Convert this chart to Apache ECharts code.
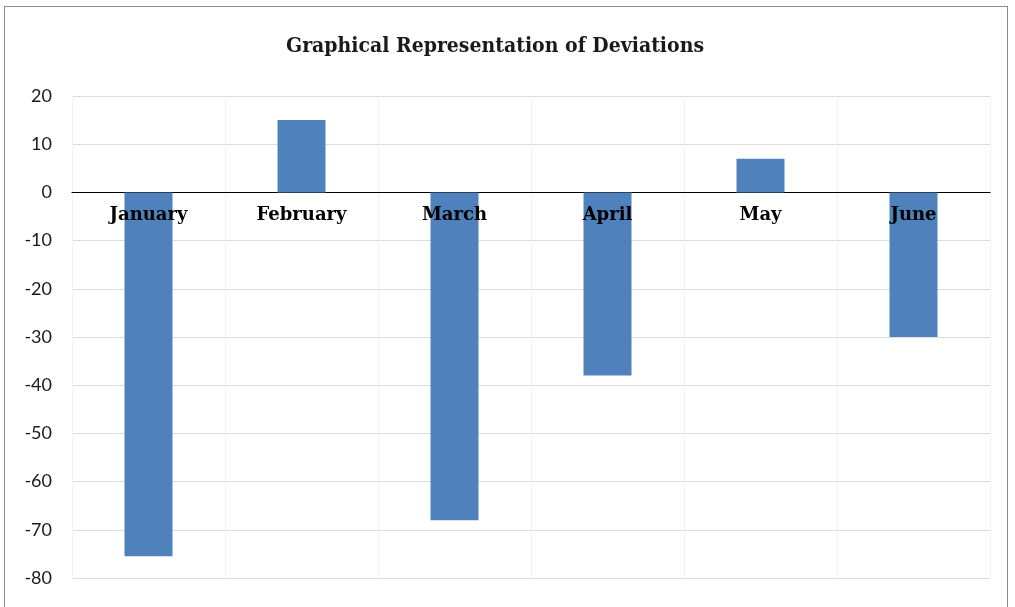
<!DOCTYPE html>
<html>
<head>
<meta charset="utf-8">
<script src="https://cdn.jsdelivr.net/npm/echarts@6/dist/echarts.min.js"></script>
<style>
  html, body { margin: 0; padding: 0; background: #fff; }
  #frame { position: absolute; left: 4px; top: 6px; width: 1004px; height: 610px; border: 1px solid #8c8c8c; box-sizing: border-box; }
  #chart { position: absolute; left: 0; top: 0; width: 1015px; height: 607px; }
</style>
</head>
<body>
<div id="frame"></div>
<div id="chart"></div>
<script>
const months = ['January', 'February', 'March', 'April', 'May', 'June']
const deviations = [-75.5, 15, -68, -38, 7, -30]

const chart = echarts.init(document.getElementById('chart'))
chart.setOption({
  animation: false,
  title: {
    text: 'Graphical Representation of Deviations',
    left: 281,
    top: 31,
    textStyle: {
      fontFamily: 'DejaVu Serif Condensed',
      fontWeight: 'bold',
      fontSize: 21,
      color: '#1a1a1a'
    }
  },
  grid: {
    left: 72,
    right: 25,
    top: 96,
    bottom: 29
  },
  xAxis: {
    type: 'category',
    data: months,
    axisLine: { onZero: true, lineStyle: { color: '#000', width: 1.2 } },
    axisTick: { show: false },
    axisLabel: { show: false },
    splitLine: { show: true, lineStyle: { color: '#f3f3f3' } }
  },
  yAxis: {
    type: 'value',
    min: -80,
    max: 20,
    interval: 10,
    axisLine: { show: false },
    axisTick: { show: false },
    axisLabel: {
      margin: 20,
      color: '#1a1a1a',
      fontFamily: 'Lato',
      fontSize: 18
    },
    splitLine: { lineStyle: { color: '#dcdcdc' } }
  },
  series: [{
    type: 'bar',
    data: deviations,
    barWidth: 48,
    itemStyle: { color: '#4f81bd' }
  }, {
    // month names sit just under the zero line, drawn over the bars
    type: 'scatter',
    data: months.map(m => [m, 0]),
    symbolSize: 0,
    z: 10,
    silent: true,
    itemStyle: { opacity: 1 },
    label: {
      show: true,
      position: 'bottom',
      distance: 14,
      formatter: p => p.value[0],
      color: '#000',
      opacity: 1,
      fontFamily: 'DejaVu Serif',
      fontWeight: 'bold',
      fontSize: 18
    }
  }]
})
</script>
</body>
</html>
